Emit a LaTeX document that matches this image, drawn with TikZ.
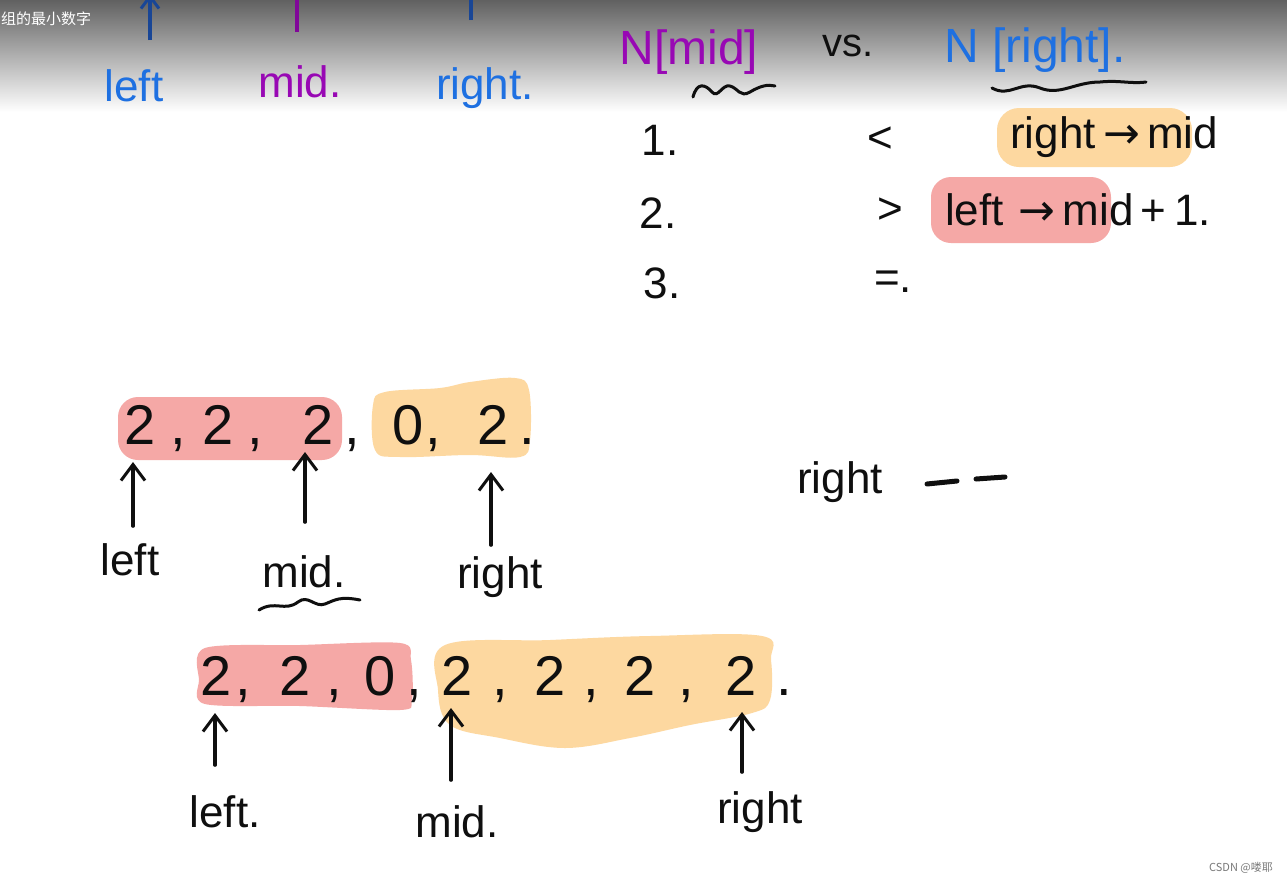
\documentclass[tikz,border=0pt]{standalone}
\usepackage{fontspec}
\setmainfont{Liberation Sans}
\newfontfamily\cjk{Noto Sans CJK SC}
\newfontfamily\dv{DejaVu Sans}
\usetikzlibrary{arrows.meta}
\definecolor{hlred}{RGB}{245,168,166}
\definecolor{hlorange}{RGB}{253,216,160}
\definecolor{penblue}{RGB}{30,112,225}
\definecolor{penpurple}{RGB}{152,8,180}
\definecolor{navy}{RGB}{25,70,150}
\definecolor{ink}{RGB}{15,15,15}
\definecolor{wm}{RGB}{120,120,120}
\begin{document}
\begin{tikzpicture}[x=1pt,y=-1pt,
  lab/.style={font=\fontsize{44}{48}\selectfont, inner sep=0pt},
  big/.style={font=\fontsize{56}{60}\selectfont, inner sep=0pt, ink, anchor=base},
  upar/.style={-{Straight Barb[length=16pt,width=24pt,line width=3pt]}, line width=3.6pt, ink, line cap=round},
  wave/.style={line width=3pt, ink, line cap=round},
  dashstroke/.style={line width=5pt, ink, line cap=round}
]
\useasboundingbox (0,0) rectangle (1287,884);
\fill[white] (0,0) rectangle (1287,884);
% top gradient bar
\shade[top color=black!62, bottom color=white] (0,0) rectangle (1287,112);
\node[anchor=west, text=white, font=\cjk\fontsize{15}{16}\selectfont, inner sep=0pt] (title) at (1,19) {组的最小数字};

% top arrows (cut off)
\coordinate (tbA) at (150,40);
\coordinate (tbB) at (150,-6);
\draw[-{Straight Barb[length=12pt,width=18pt,line width=3pt]}, line width=3.4pt, navy] (tbA) -- (tbB);
\coordinate (tpA) at (297,32);
\coordinate (tpB) at (297,-2);
\draw[line width=3.6pt, penpurple!85!black] (tpA) -- (tpB);
\coordinate (trA) at (471,20);
\coordinate (trB) at (471,-2);
\draw[line width=3.6pt, navy] (trA) -- (trB);

\node[lab, text=penblue] (tleft) at (134,86) {left};
\node[lab, text=penpurple] (tmid) at (300,82) {mid.};
\node[lab, text=penblue] (tright) at (485,88) {right.};

% N[mid] vs N[right]
\node[lab, text=penpurple, font=\fontsize{48}{50}\selectfont] (nmid) at (689,52) {N[mid]};
\node[lab, text=ink, font=\fontsize{40}{44}\selectfont] (vs) at (848,46) {vs.};
\node[lab, text=penblue, font=\fontsize{48}{50}\selectfont] (nright) at (1035,50) {N [right].};
\draw[wave] (693,97) .. controls (697,82) and (705,84) .. (712,92) .. controls (718,99) and (722,84) .. (730,86) .. controls (738,88) and (740,98) .. (750,92) .. controls (760,86) and (768,84) .. (775,86);
\draw[wave] (992,88) .. controls (1010,98) and (1020,80) .. (1040,88) .. controls (1060,96) and (1075,82) .. (1100,82) .. controls (1120,80) and (1130,84) .. (1146,82);

% conditions
\fill[hlorange, rounded corners=22pt] (997,108) rectangle (1192,167);
\fill[hlred, rounded corners=20pt] (931,177) rectangle (1111,243);
\node[lab, text=ink] (one) at (660,140) {1.};
\node[lab, text=ink] (two) at (658,213) {2.};
\node[lab, text=ink] (three) at (662,283) {3.};
\node[lab, text=ink] (lt) at (880,140) {<};
\node[lab, text=ink] (gt) at (890,211) {>};
\node[lab, text=ink] (eq) at (893,282) {=.};
\node[lab, text=ink, anchor=west] (r1) at (1010,137) {right{\dv\,→\,}mid};
\node[lab, text=ink, anchor=west] (r2) at (945,210) {left\,{\dv\,→\,}mid\,+\,1.};

% middle array
\fill[hlred, rounded corners=20pt] (118,397) rectangle (342,460);
\fill[hlorange] plot[smooth cycle, tension=0.6] coordinates {(385,392) (440,388) (470,382) (515,378) (529,390) (530,440) (520,457) (470,455) (400,457) (375,450) (373,405)};
\foreach \v/\x/\n in {2/140/a1, {,}/178/c1, 2/218/a2, {,}/255/c2, 2/318/a3, {,}/352/c3, 0/408/a4, {,}/433/c4, 2/493/a5, ./527/c5}{
  \node[big] (m\n) at (\x,444) {\v};
}
\coordinate (mtipL) at (133,462);
\coordinate (mtipM) at (305,452);
\coordinate (mtipR) at (491,472);
\node[lab, text=ink] (mleft) at (130,560) {left};
\node[lab, text=ink] (mmid) at (304,572) {mid.};
\node[lab, text=ink] (mright) at (500,577) {right};
\draw[upar] (133,526) -- (mtipL);
\draw[upar] (305,522) -- (mtipM);
\draw[upar] (491,545) -- (mtipR);
\draw[wave] (259,610) .. controls (275,600) and (285,612) .. (298,602) .. controls (308,594) and (315,608) .. (325,604) .. controls (335,600) and (340,596) .. (360,600);

% right --
\node[lab, text=ink] (rdash) at (840,482) {right};
\coordinate (d1a) at (927,484);
\coordinate (d1b) at (957,481);
\coordinate (d2a) at (976,479);
\coordinate (d2b) at (1005,477);
\draw[dashstroke] (d1a) -- (d1b);
\draw[dashstroke] (d2a) -- (d2b);

% bottom array
\fill[hlred] plot[smooth cycle, tension=0.5] coordinates {(205,648) (300,645) (400,643) (411,660) (412,700) (400,710) (300,706) (205,704) (199,680)};
\fill[hlorange] plot[smooth cycle, tension=0.6] coordinates {(445,645) (550,640) (650,636) (762,636) (771,660) (770,700) (752,713) (690,725) (630,738) (565,748) (500,738) (450,725) (438,690)};
\foreach \v/\x/\n in {2/216/b1, {,}/243/k1, 2/295/b2, {,}/334/k2, 0/380/b3, {,}/414/k3, 2/457/b4, {,}/500/k4, 2/550/b5, {,}/591/k5, 2/640/b6, {,}/686/k6, 2/741/b7, ./784/k7}{
  \node[big] (s\n) at (\x,695) {\v};
}
\coordinate (btipL) at (215,713);
\coordinate (btipM) at (451,708);
\coordinate (btipR) at (742,712);
\node[lab, text=ink] (bleft) at (225,812) {left.};
\node[lab, text=ink] (bmid) at (457,822) {mid.};
\node[lab, text=ink] (bright) at (760,812) {right};
\draw[upar] (215,765) -- (btipL);
\draw[upar] (451,780) -- (btipM);
\draw[upar] (742,772) -- (btipR);

% watermark
\node[anchor=east, text=wm, font=\cjk\fontsize{11}{12}\selectfont, inner sep=0pt] (wmk) at (1273,868) {CSDN @喽耶};
\end{tikzpicture}
\end{document}
